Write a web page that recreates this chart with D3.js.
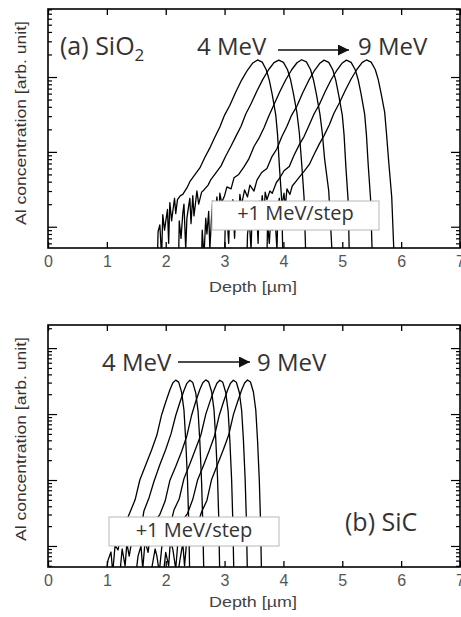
<!DOCTYPE html>
<html><head><meta charset="utf-8">
<script src="https://cdn.jsdelivr.net/npm/d3@7"></script>
<style>body{margin:0;background:#fff}svg{display:block}</style>
</head><body>
<svg id="c" width="461" height="617"></svg>
<script>
// ---------- data ----------
const depthTicks = [0,1,2,3,4,5,6,7];
const energies = ["4 MeV","5 MeV","6 MeV","7 MeV","8 MeV","9 MeV"];

// (a) SiO2 : depth [µm], Al concentration [arb. unit]
const sio2Depth4 = [1.86,1.87,1.90,1.93,1.95,1.98,2.00,2.03,2.05,2.07,2.10,2.12,2.15,2.17,2.20,2.25,2.29,2.36,2.41,2.49,2.58,2.66,2.75,2.83,2.92,3.00,3.09,3.19,3.29,3.39,3.48,3.56,3.64,3.71,3.76,3.81,3.87,3.90,3.93,3.97,3.99];
const sio2Conc4  = [0.4,0.86,1.06,0.4,1.45,0.9,1.17,1.7,0.6,2.1,1.2,1.6,2.4,1.5,2.3,2.6,2.7,3.3,4.0,4.9,6.1,8.3,11.3,15.4,21.5,31,42,63,91,124,154,169,158,124,91,58,31,17,6.7,2.3,0.4];
const sio2Depth5 = [2.22,2.23,2.26,2.29,2.31,2.34,2.36,2.39,2.41,2.43,2.46,2.48,2.51,2.53,2.56,2.61,2.65,2.72,2.77,2.85,2.94,3.02,3.11,3.19,3.28,3.36,3.45,3.55,3.65,3.75,3.84,3.92,4.00,4.07,4.12,4.17,4.23,4.27,4.31,4.35,4.38];
const sio2Conc5  = [0.4,1.2,0.7,1.5,2.0,0.5,1.3,1.9,2.4,1.1,2.6,1.4,2.2,3.0,2.0,2.9,3.1,3.6,4.3,5.2,6.5,8.8,12,16,22,32,44,65,93,126,156,168,157,125,93,60,33,18,7,2.5,0.4];
const sio2Depth6 = [2.61,2.62,2.65,2.68,2.70,2.73,2.75,2.78,2.80,2.82,2.85,2.87,2.90,2.92,2.95,3.00,3.04,3.11,3.16,3.24,3.33,3.41,3.50,3.58,3.67,3.75,3.84,3.94,4.04,4.14,4.23,4.31,4.39,4.46,4.51,4.56,4.62,4.66,4.70,4.77,4.83];
const sio2Conc6  = [0.4,0.9,0.4,1.3,0.8,1.6,0.5,1.4,2.2,1.0,1.8,2.5,1.3,2.8,2.1,2.6,3.4,3.2,4.5,5.0,6.3,8.0,11.8,15,21,30,43,64,92,125,155,170,159,126,92,59,32,18,8,3.0,0.4];
const sio2Depth7 = [3.00,3.01,3.04,3.07,3.09,3.12,3.14,3.17,3.19,3.21,3.24,3.26,3.29,3.31,3.34,3.39,3.43,3.50,3.55,3.63,3.72,3.80,3.89,3.97,4.06,4.14,4.23,4.33,4.43,4.53,4.62,4.69,4.77,4.84,4.89,4.94,5.00,5.03,5.06,5.10,5.12];
const sio2Conc7  = [0.4,1.0,1.4,0.6,1.8,1.1,2.3,0.7,1.6,2.0,1.2,2.7,1.9,2.4,3.1,2.5,3.6,3.0,4.2,5.3,6.0,8.5,11,15.8,22,31,41,62,90,123,153,168,157,124,90,57,31,17,6.5,2.2,0.4];
const sio2Depth8 = [3.38,3.39,3.42,3.45,3.47,3.50,3.52,3.55,3.57,3.59,3.62,3.64,3.67,3.69,3.72,3.77,3.81,3.88,3.93,4.01,4.10,4.18,4.27,4.35,4.44,4.52,4.61,4.71,4.81,4.91,5.00,5.07,5.15,5.22,5.27,5.32,5.38,5.41,5.44,5.48,5.51];
const sio2Conc8  = [0.4,0.8,1.2,0.5,1.6,1.0,2.0,1.3,0.6,2.2,1.7,2.6,1.4,2.9,2.3,3.0,2.8,3.9,4.4,5.6,6.4,9.0,12.5,16,23,32,43,64,92,124,154,168,157,125,92,59,32,17,6.8,2.4,0.4];
const sio2Depth9 = [3.72,3.73,3.76,3.79,3.81,3.84,3.86,3.89,3.91,3.93,3.96,3.98,4.01,4.03,4.06,4.11,4.15,4.22,4.27,4.35,4.44,4.52,4.61,4.69,4.78,4.86,4.95,5.05,5.15,5.25,5.34,5.41,5.49,5.56,5.61,5.66,5.72,5.75,5.79,5.84,5.88];
const sio2Conc9  = [0.4,1.1,0.6,1.5,0.9,1.8,1.2,0.5,1.9,2.4,1.4,2.1,2.8,1.8,3.2,2.7,3.5,4.1,4.6,5.5,6.8,9.2,12.8,16.5,23,33,45,66,94,127,157,169,158,126,93,60,34,18,7.2,2.5,0.4];

// (b) SiC : depth [µm], Al concentration [arb. unit]
const sicDepth4 = [0.97,1.02,1.07,1.10,1.14,1.19,1.24,1.29,1.34,1.39,1.48,1.56,1.66,1.76,1.85,1.93,2.00,2.07,2.12,2.17,2.22,2.27,2.31,2.34,2.37,2.39,2.41];
const sicConc4  = [0.3,0.61,0.81,0.4,1.03,0.87,1.47,1.9,2.5,3.2,5.0,10,16.9,28.5,48,97,152,231,295,327,305,215,115,40,10,2.5,0.3];
const sicDepth5 = [1.21,1.26,1.31,1.34,1.38,1.43,1.48,1.53,1.58,1.63,1.72,1.80,1.90,2.00,2.09,2.17,2.24,2.31,2.36,2.41,2.46,2.51,2.55,2.58,2.61,2.63,2.65];
const sicConc5  = [0.3,0.9,0.5,1.1,0.7,1.3,1.6,2.2,1.8,3.4,5.5,9.5,17,29,50,95,150,228,292,325,300,210,110,38,9,2.2,0.3];
const sicDepth6 = [1.48,1.53,1.58,1.61,1.65,1.70,1.75,1.80,1.85,1.90,1.99,2.07,2.17,2.27,2.36,2.44,2.51,2.58,2.63,2.68,2.73,2.78,2.82,2.85,2.88,2.90,2.92];
const sicConc6  = [0.3,0.7,1.0,0.45,1.2,0.8,1.7,1.4,2.6,3.0,4.8,9.8,16,27,47,96,155,235,298,330,308,218,118,42,11,2.8,0.3];
const sicDepth7 = [1.72,1.77,1.82,1.85,1.89,1.94,1.99,2.04,2.09,2.14,2.23,2.31,2.41,2.51,2.60,2.68,2.75,2.82,2.87,2.92,2.97,3.02,3.06,3.09,3.12,3.14,3.16];
const sicConc7  = [0.3,0.5,0.9,0.7,0.4,1.1,1.5,2.0,2.3,3.5,5.2,10.5,17.5,30,49,99,153,230,294,326,303,212,112,39,10,2.4,0.3];
const sicDepth8 = [1.95,2.00,2.05,2.08,2.12,2.17,2.22,2.27,2.32,2.37,2.46,2.54,2.64,2.74,2.83,2.91,2.98,3.05,3.10,3.15,3.20,3.25,3.29,3.32,3.35,3.37,3.39];
const sicConc8  = [0.3,0.8,0.5,1.2,0.9,0.45,1.6,1.8,2.7,3.1,5.1,9.9,16.5,28,47,96,151,229,293,326,304,214,114,41,10,2.6,0.3];
const sicDepth9 = [2.19,2.24,2.29,2.32,2.36,2.41,2.46,2.51,2.56,2.61,2.70,2.78,2.88,2.98,3.07,3.15,3.22,3.29,3.34,3.39,3.44,3.49,3.53,3.56,3.59,3.61,3.63];
const sicConc9  = [0.3,0.6,1.1,0.5,1.3,1.0,1.4,2.1,2.4,3.3,4.9,10.2,17.2,29,48,98,152,232,296,328,306,216,116,40,10,2.5,0.3];

const sio2Series = [[sio2Depth4,sio2Conc4],[sio2Depth5,sio2Conc5],[sio2Depth6,sio2Conc6],[sio2Depth7,sio2Conc7],[sio2Depth8,sio2Conc8],[sio2Depth9,sio2Conc9]];
const sicSeries  = [[sicDepth4,sicConc4],[sicDepth5,sicConc5],[sicDepth6,sicConc6],[sicDepth7,sicConc7],[sicDepth8,sicConc8],[sicDepth9,sicConc9]];

// ---------- drawing ----------
const svg = d3.select("#c");
const X0 = 48, X1 = 460;
const x = d3.scaleLinear().domain([0,7]).range([X0,X1]);
const textFont = "'Open Sans', sans-serif";
const axisFont = "'Liberation Sans', Arial, sans-serif";

const panels = [
  {id:"a", top:9, bottom:248, yDomain:[0.52,810], series:sio2Series,
   name:"(a) SiO", sub:"2", nameX:60, nameY:55,
   e0X:197, e1X:358, eY:55, arrowY:50, arX0:278, arX1:349,
   box:[212,201,379,230], boxTextY:220,
   yLabelCY:123, xLabelY:292},
  {id:"b", top:325, bottom:567, yDomain:[0.48,2240], series:sicSeries,
   name:"(b) SiC", sub:"", nameX:345, nameY:531,
   e0X:102, e1X:257, eY:371, arrowY:362, arX0:178, arX1:250,
   box:[109,517,279,546], boxTextY:537,
   yLabelCY:439, xLabelY:607}
];

const defs = svg.append("defs");
defs.append("marker").attr("id","ah").attr("viewBox","0 0 10 10")
  .attr("refX",10).attr("refY",5).attr("markerWidth",12).attr("markerHeight",11)
  .attr("markerUnits","userSpaceOnUse").attr("orient","auto")
  .append("path").attr("d","M0,0L10,5L0,10Z").attr("fill","#111");

panels.forEach(p => {
  const y = d3.scaleLog().domain(p.yDomain).range([p.bottom,p.top]);
  const g = svg.append("g");
  defs.append("clipPath").attr("id","clip"+p.id).append("rect")
    .attr("x",X0).attr("y",p.top).attr("width",X1-X0).attr("height",p.bottom-p.top);

  const line = d3.line().x(d=>x(d[0])).y(d=>y(d[1]));
  const cg = g.append("g").attr("clip-path",`url(#clip${p.id})`);
  p.series.forEach(([ds,vs]) => {
    cg.append("path").datum(ds.map((d,i)=>[d,vs[i]]))
      .attr("d",line).attr("fill","none").attr("stroke","#000").attr("stroke-width",1.3)
      .attr("stroke-linejoin","round");
  });

  // white legend box over curves
  const [bx0,by0,bx1,by1] = p.box;
  g.append("rect").attr("x",bx0).attr("y",by0).attr("width",bx1-bx0).attr("height",by1-by0)
    .attr("fill","#fff").attr("stroke","#b8b8b8").attr("stroke-width",1);
  g.append("text").attr("x",(bx0+bx1)/2).attr("y",p.boxTextY).attr("text-anchor","middle")
    .attr("font-family",textFont).attr("font-size",20).attr("fill","#333").text("+1 MeV/step");

  // axes
  const yt = y.ticks();
  const major = yt.filter(v => Math.abs(Math.log10(v)-Math.round(Math.log10(v)))<1e-9);
  const minor = yt.filter(v => !major.includes(v));
  const axG = g.append("g").attr("fill","none");
  const addYAxis = (gen, tx, vals, size) => {
    const a = axG.append("g").attr("transform",`translate(${tx},0)`)
      .call(gen(y).tickValues(vals).tickSize(size).tickFormat(""));
    a.select(".domain").remove();
    a.selectAll("line").attr("stroke","#000").attr("stroke-width",1.2);
  };
  addYAxis(d3.axisRight, X0, major, 9);
  addYAxis(d3.axisRight, X0, minor, 4);
  addYAxis(d3.axisLeft, X1, major, 9);
  addYAxis(d3.axisLeft, X1, minor, 4);

  const xb = axG.append("g").attr("transform",`translate(0,${p.bottom})`)
    .call(d3.axisBottom(x).tickValues(depthTicks).tickSize(-6).tickPadding(8).tickFormat(d3.format("d")));
  xb.select(".domain").remove();
  xb.selectAll("line").attr("stroke","#000").attr("stroke-width",1.3);
  xb.selectAll("text").attr("font-family",axisFont).attr("font-size",16).attr("fill","#555");
  const xt = axG.append("g").attr("transform",`translate(0,${p.top})`)
    .call(d3.axisTop(x).tickValues(depthTicks).tickSize(-6).tickFormat(""));
  xt.select(".domain").remove();
  xt.selectAll("line").attr("stroke","#000").attr("stroke-width",1.3);

  g.append("rect").attr("x",X0).attr("y",p.top).attr("width",X1-X0).attr("height",p.bottom-p.top)
    .attr("fill","none").attr("stroke","#000").attr("stroke-width",1.6);

  // axis titles
  g.append("text").attr("transform",`translate(21,${p.yLabelCY}) rotate(-90)`)
    .attr("text-anchor","middle").attr("dy","0.35em")
    .attr("font-family",axisFont).attr("font-size",14).attr("fill","#333")
    .attr("textLength",204).attr("lengthAdjust","spacingAndGlyphs")
    .text("Al concentration [arb. unit]");
  g.append("text").attr("x",253).attr("y",p.xLabelY).attr("text-anchor","middle")
    .attr("font-family",axisFont).attr("font-size",15).attr("fill","#444")
    .attr("textLength",88).attr("lengthAdjust","spacingAndGlyphs")
    .text("Depth [µm]");

  // panel name
  const nt = g.append("text").attr("x",p.nameX).attr("y",p.nameY)
    .attr("font-family",textFont).attr("font-size",25).attr("fill","#333").text(p.name);
  if (p.sub) nt.append("tspan").attr("dy",6).attr("font-size",17).text(p.sub);

  // energy arrow
  g.append("text").attr("x",p.e0X).attr("y",p.eY).attr("font-family",textFont)
    .attr("font-size",24).attr("fill","#333").text(energies[0]);
  g.append("text").attr("x",p.e1X).attr("y",p.eY).attr("font-family",textFont)
    .attr("font-size",24).attr("fill","#333").text(energies[energies.length-1]);
  g.append("line").attr("x1",p.arX0).attr("x2",p.arX1).attr("y1",p.arrowY).attr("y2",p.arrowY)
    .attr("stroke","#111").attr("stroke-width",1.6).attr("marker-end","url(#ah)");
});
</script>
</body></html>
